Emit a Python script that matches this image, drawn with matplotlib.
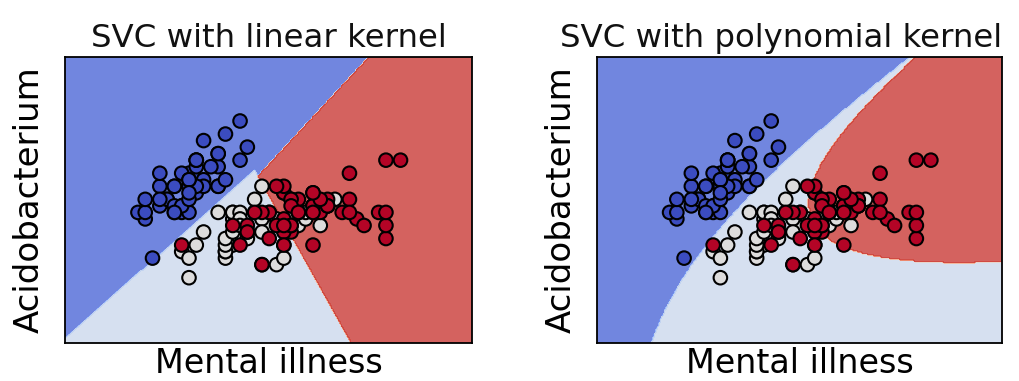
import numpy as np
import matplotlib
matplotlib.use("Agg")
import matplotlib.pyplot as plt

# Iris data: sepal length (x) and sepal width (y); classes 0,1,2
sepal_length = [
    5.1, 4.9, 4.7, 4.6, 5.0, 5.4, 4.6, 5.0, 4.4, 4.9, 5.4, 4.8, 4.8, 4.3, 5.8, 5.7, 5.4, 5.1, 5.7, 5.1,
    5.4, 5.1, 4.6, 5.1, 4.8, 5.0, 5.0, 5.2, 5.2, 4.7, 4.8, 5.4, 5.2, 5.5, 4.9, 5.0, 5.5, 4.9, 4.4, 5.1,
    5.0, 4.5, 4.4, 5.0, 5.1, 4.8, 5.1, 4.6, 5.3, 5.0,
    7.0, 6.4, 6.9, 5.5, 6.5, 5.7, 6.3, 4.9, 6.6, 5.2, 5.0, 5.9, 6.0, 6.1, 5.6, 6.7, 5.6, 5.8, 6.2, 5.6,
    5.9, 6.1, 6.3, 6.1, 6.4, 6.6, 6.8, 6.7, 6.0, 5.7, 5.5, 5.5, 5.8, 6.0, 5.4, 6.0, 6.7, 6.3, 5.6, 5.5,
    5.5, 6.1, 5.8, 5.0, 5.6, 5.7, 5.7, 6.2, 5.1, 5.7,
    6.3, 5.8, 7.1, 6.3, 6.5, 7.6, 4.9, 7.3, 6.7, 7.2, 6.5, 6.4, 6.8, 5.7, 5.8, 6.4, 6.5, 7.7, 7.7, 6.0,
    6.9, 5.6, 7.7, 6.3, 6.7, 7.2, 6.2, 6.1, 6.4, 7.2, 7.4, 7.9, 6.4, 6.3, 6.1, 7.7, 6.3, 6.4, 6.0, 6.9,
    6.7, 6.9, 5.8, 6.8, 6.7, 6.7, 6.3, 6.5, 6.2, 5.9,
]
sepal_width = [
    3.5, 3.0, 3.2, 3.1, 3.6, 3.9, 3.4, 3.4, 2.9, 3.1, 3.7, 3.4, 3.0, 3.0, 4.0, 4.4, 3.9, 3.5, 3.8, 3.8,
    3.4, 3.7, 3.6, 3.3, 3.4, 3.0, 3.4, 3.5, 3.4, 3.2, 3.1, 3.4, 4.1, 4.2, 3.1, 3.2, 3.5, 3.6, 3.0, 3.4,
    3.5, 2.3, 3.2, 3.5, 3.8, 3.0, 3.8, 3.2, 3.7, 3.3,
    3.2, 3.2, 3.1, 2.3, 2.8, 2.8, 3.3, 2.4, 2.9, 2.7, 2.0, 3.0, 2.2, 2.9, 2.9, 3.1, 3.0, 2.7, 2.2, 2.5,
    3.2, 2.8, 2.5, 2.8, 2.9, 3.0, 2.8, 3.0, 2.9, 2.6, 2.4, 2.4, 2.7, 2.7, 3.0, 3.4, 3.1, 2.3, 3.0, 2.5,
    2.6, 3.0, 2.6, 2.3, 2.7, 3.0, 2.9, 2.9, 2.5, 2.8,
    3.3, 2.7, 3.0, 2.9, 3.0, 3.0, 2.5, 2.9, 2.5, 3.6, 3.2, 2.7, 3.0, 2.5, 2.8, 3.2, 3.0, 3.8, 2.6, 2.2,
    3.2, 2.8, 2.8, 2.7, 3.3, 3.2, 2.8, 3.0, 2.8, 3.0, 2.8, 3.8, 2.8, 2.8, 2.6, 3.0, 3.4, 3.1, 3.0, 3.1,
    3.1, 3.1, 2.7, 3.2, 3.3, 3.0, 2.5, 3.0, 3.4, 3.0,
]
species = [0] * 50 + [1] * 50 + [2] * 50

titles = ["SVC with linear kernel", "SVC with polynomial kernel"]
x_label = "Mental illness"
y_label = "Acidobacterium"

X = np.column_stack([sepal_length, sepal_width])
y = np.array(species)
C = 1.0


def k_linear(A, B):
    return A @ B.T


def k_poly(A, B):
    return (0.5 * (A @ B.T)) ** 3


def smo(K, t, C=1.0, eps=1e-3, max_iter=300000):
    n = len(t)
    a = np.zeros(n)
    G = -np.ones(n)
    pos = t > 0
    neg = ~pos
    for _ in range(max_iter):
        yG = -t * G
        below = a < C - 1e-12
        above = a > 1e-12
        up = (pos & below) | (neg & above)
        low = (pos & above) | (neg & below)
        yu = np.where(up, yG, -np.inf)
        yl = np.where(low, yG, np.inf)
        i = int(np.argmax(yu))
        j = int(np.argmin(yl))
        gap = yu[i] - yl[j]
        if gap < eps:
            break
        quad = K[i, i] + K[j, j] - 2 * K[i, j]
        if quad <= 1e-12:
            quad = 1e-12
        step = gap / quad
        bi = (C - a[i]) if t[i] > 0 else a[i]
        bj = a[j] if t[j] > 0 else (C - a[j])
        step = min(step, bi, bj)
        a[i] = min(max(a[i] + t[i] * step, 0.0), C)
        a[j] = min(max(a[j] - t[j] * step, 0.0), C)
        G += step * t * (K[:, i] - K[:, j])
    # rho as in libsvm
    yG = t * G
    free = (a > 1e-12) & (a < C - 1e-12)
    if free.any():
        rho = yG[free].mean()
    else:
        atC = a >= C - 1e-12
        at0 = ~atC
        ubm = (atC & neg) | (at0 & pos)
        lbm = (atC & pos) | (at0 & neg)
        ub = yG[ubm].min() if ubm.any() else np.inf
        lb = yG[lbm].max() if lbm.any() else -np.inf
        rho = 0.5 * (ub + lb)
    return a, rho


def fit_predict(kernel, grid):
    votes = np.zeros((grid.shape[0], 3), dtype=int)
    for ci, cj in [(0, 1), (0, 2), (1, 2)]:
        m = (y == ci) | (y == cj)
        Xs = X[m]
        t = np.where(y[m] == ci, 1.0, -1.0)
        K = kernel(Xs, Xs)
        a, rho = smo(K, t, C)
        sv = a > 1e-12
        dec = kernel(grid, Xs[sv]) @ (a[sv] * t[sv]) - rho
        votes[dec > 0, ci] += 1
        votes[dec <= 0, cj] += 1
    return np.argmax(votes, axis=1)


h = 0.02
x_min, x_max = X[:, 0].min() - 1, X[:, 0].max() + 1
y_min, y_max = X[:, 1].min() - 1, X[:, 1].max() + 1
xx, yy = np.meshgrid(np.arange(x_min, x_max, h), np.arange(y_min, y_max, h))
grid = np.c_[xx.ravel(), yy.ravel()]

plt.rcParams['font.family'] = ['DejaVu Sans']
fig = plt.figure(figsize=(10.19, 3.81), dpi=100)
axes_pos = [[65 / 1019, 38 / 381, 407 / 1019, 286 / 381],
            [597 / 1019, 38 / 381, 405 / 1019, 286 / 381]]
title_x = [0.5, 0.455]

for k, (kernel, title) in enumerate(zip([k_linear, k_poly], titles)):
    ax = fig.add_axes(axes_pos[k])
    Z = fit_predict(kernel, grid).reshape(xx.shape)
    ax.contourf(xx, yy, Z, cmap=plt.cm.coolwarm, alpha=0.8)
    ax.scatter(X[:, 0], X[:, 1], c=y, cmap=plt.cm.coolwarm, s=95,
               edgecolors='k', linewidths=1.5, zorder=3)
    ax.set_xlim(xx.min(), xx.max())
    ax.set_ylim(yy.min(), yy.max())
    ax.set_xticks([])
    ax.set_yticks([])
    for sp in ax.spines.values():
        sp.set_linewidth(1.3)
    ax.set_title(title, fontsize=23.3, pad=7.5, color='#111111', x=title_x[k])
    ax.set_xlabel(x_label, fontsize=24, labelpad=3.0)
    ax.set_ylabel(y_label, fontsize=24.5, labelpad=14)

fig.savefig("out.png", dpi=100)
